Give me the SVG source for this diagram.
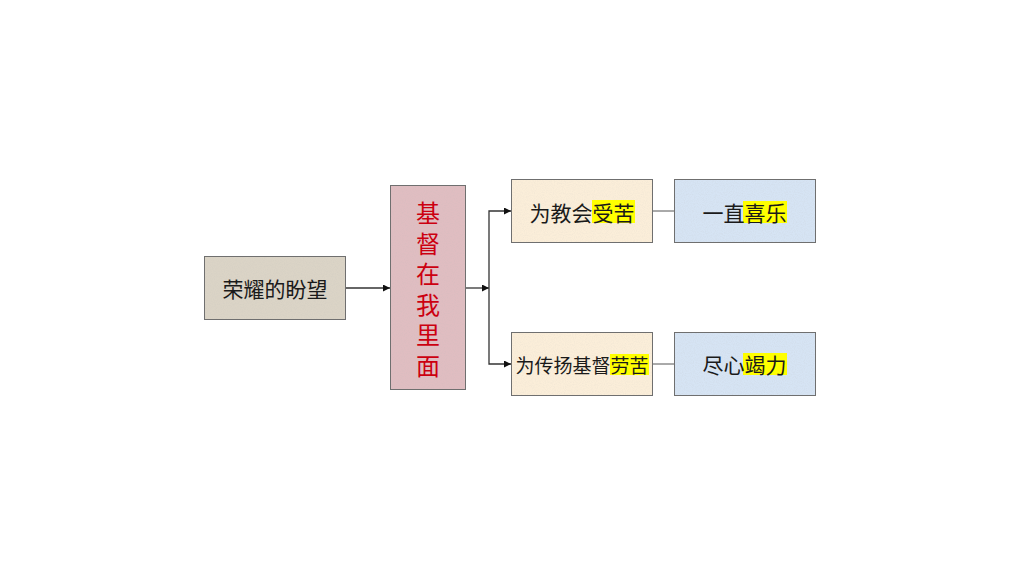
<svg xmlns="http://www.w3.org/2000/svg" width="1024" height="576" viewBox="0 0 1024 576">
<style>
.box{stroke:#6f6f6f;stroke-width:1}
.t{font-family:"Noto Sans CJK SC","Noto Sans CJK TC",sans-serif;fill:#1a1a1a;dominant-baseline:central}
.red{font-family:"Noto Sans CJK SC","Noto Sans CJK TC",sans-serif;fill:#cc0010;font-size:24px;writing-mode:vertical-rl;letter-spacing:6.5px}
.hl{fill:#ffff00}
.conn{stroke:#333;stroke-width:1.3;fill:none}
.thin{stroke:#555;stroke-width:1;fill:none}
</style>
<defs>
<marker id="ah" viewBox="0 0 10 10" refX="10" refY="5" markerWidth="7" markerHeight="7" markerUnits="userSpaceOnUse" orient="auto">
<path d="M0,0 L10,5 L0,10 z" fill="#111"/>
</marker>
<filter id="tex" x="0" y="0" width="100%" height="100%">
<feTurbulence type="fractalNoise" baseFrequency="0.9" numOctaves="2" seed="3" result="n"/>
<feColorMatrix in="n" type="matrix" values="0 0 0 0 0.5  0 0 0 0 0.5  0 0 0 0 0.5  0 0 0 -1.2 0.75" result="a"/>
<feComposite in="a" in2="SourceGraphic" operator="in"/>
</filter>
</defs>
<rect width="1024" height="576" fill="#ffffff"/>
<g id="connectors">
<line class="conn" x1="345" y1="288" x2="390" y2="288" marker-end="url(#ah)"/>
<line class="conn" x1="465" y1="288" x2="489" y2="288" marker-end="url(#ah)"/>
<path class="conn" d="M489,288 V211 H511" marker-end="url(#ah)"/>
<path class="conn" d="M489,288 V364 H511" marker-end="url(#ah)"/>
<line class="thin" x1="653" y1="211" x2="674" y2="211"/>
<line class="thin" x1="653" y1="364" x2="674" y2="364"/>
</g>
<g id="n1">
<rect class="box" x="204.5" y="256.5" width="141" height="63" fill="#dbd4c6"/>
<rect x="205" y="257" width="140" height="62" fill="#fff" filter="url(#tex)" opacity="0.25"/>
<text class="t" x="222.5" y="288" font-size="21">荣耀的盼望</text>
</g>
<g id="n2">
<rect class="box" x="390.5" y="185.5" width="75" height="204" fill="#e0bdc1"/>
<rect x="391" y="186" width="74" height="203" fill="#fff" filter="url(#tex)" opacity="0.25"/>
<text class="red" x="428" y="201">基督在我里面</text>
</g>
<g id="n3">
<rect class="box" x="511.5" y="179.5" width="141" height="63" fill="#fbeed9"/>
<rect x="512" y="180" width="140" height="62" fill="#fff" filter="url(#tex)" opacity="0.2"/>
<rect class="hl" x="592" y="200" width="43" height="23"/>
<text class="t" x="529.5" y="211.5" font-size="21">为教会受苦</text>
</g>
<g id="n4">
<rect class="box" x="511.5" y="332.5" width="141" height="63" fill="#fbeed9"/>
<rect x="512" y="333" width="140" height="62" fill="#fff" filter="url(#tex)" opacity="0.2"/>
<rect class="hl" x="610" y="354" width="39" height="21"/>
<text class="t" x="515.5" y="364" font-size="19">为传扬基督劳苦</text>
</g>
<g id="n5">
<rect class="box" x="674.5" y="179.5" width="141" height="63" fill="#d6e4f4"/>
<rect x="675" y="180" width="140" height="62" fill="#fff" filter="url(#tex)" opacity="0.25"/>
<rect class="hl" x="743" y="201" width="44" height="22"/>
<text class="t" x="702.5" y="211.5" font-size="21">一直喜乐</text>
</g>
<g id="n6">
<rect class="box" x="674.5" y="332.5" width="141" height="63" fill="#d6e4f4"/>
<rect x="675" y="333" width="140" height="62" fill="#fff" filter="url(#tex)" opacity="0.25"/>
<rect class="hl" x="743" y="353" width="44" height="22"/>
<text class="t" x="702.5" y="364" font-size="21">尽心竭力</text>
</g>
</svg>
